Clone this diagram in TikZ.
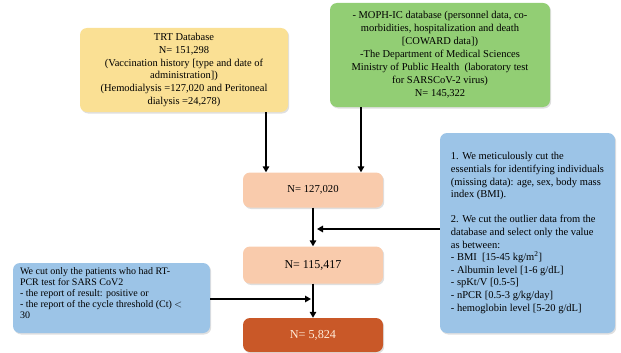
\documentclass[tikz,border=0pt]{standalone}
\usepackage{fontspec}
\setmainfont{Liberation Serif}
\usetikzlibrary{arrows.meta,shadows}
\definecolor{cyellow}{RGB}{250,224,148}
\definecolor{cgreen}{RGB}{146,206,116}
\definecolor{cpeach}{RGB}{249,203,172}
\definecolor{cdark}{RGB}{201,88,40}
\definecolor{cblue}{RGB}{156,196,231}
\tikzset{
  box/.style={rounded corners=7pt, draw=none, inner sep=2pt,
    drop shadow={opacity=0.25, shadow xshift=1.2pt, shadow yshift=-1.5pt},
    font=\fontsize{10.5}{12.9}\selectfont, text=black},
  txt/.style={inner sep=0pt, align=left, text=black},
  arr/.style={line width=1.6pt, -{Triangle[length=6pt,width=6.5pt]}},
}
\begin{document}
\begin{tikzpicture}[x=1pt,y=-1pt]
\useasboundingbox (0,0) rectangle (621,353);
\node[box, fill=cyellow, minimum width=208pt, minimum height=84pt, align=center] (yel) at (184,70)
  {TRT Database\\N= 151,298\\(Vaccination history [type and date of\\administration])\\(Hemodialysis =127,020 and Peritoneal\\dialysis =24,278)};
\node[box, fill=cgreen, minimum width=220pt, minimum height=104pt, align=center, font=\fontsize{10.5}{13}\selectfont] (grn) at (440,55)
  {- MOPH-IC database (personnel data, co-\\morbidities, hospitalization and death\\{[COWARD data])}\\-The Department of Medical Sciences\\Ministry of Public Health\ \ (laboratory test\\for SARSCoV-2 virus)\\N= 145,322};
\node[box, fill=cpeach, minimum width=140pt, minimum height=35pt, font=\fontsize{10.7}{12}\selectfont] (n1) at (313,190) {N= 127,020};
\node[box, fill=cpeach, minimum width=140pt, minimum height=37pt, font=\fontsize{12}{14}\selectfont] (n2) at (313,265) {N= 115,417};
\node[box, fill=cdark, minimum width=140pt, minimum height=34pt, text=orange!15, font=\fontsize{12.2}{14}\selectfont] (n3) at (313,335) {N= 5,824};
\node[box, fill=cblue, minimum width=175pt, minimum height=200pt, align=left, font=\fontsize{10.5}{12.6}\selectfont] (rb) at (527.5,233)
  {1. We meticulously cut the\\essentials for identifying individuals\\(missing data): age, sex, body mass\\index (BMI).\\[12.6pt]2. We cut the outlier data from the\\database and select only the value\\as between:\\- BMI\ \ [15-45 kg/m\textsuperscript{2}]\\- Albumin level [1-6 g/dL]\\- spKt/V [0.5-5]\\- nPCR [0.5-3 g/kg/day]\\- hemoglobin level [5-20 g/dL]};
\node[box, fill=cblue, minimum width=197pt, minimum height=70pt] (lb) at (111.5,298) {};
\node[txt, anchor=west, font=\fontsize{10}{10.8}\selectfont] (lbt) at ([xshift=7pt,yshift=5pt]lb.west)
  {We cut only the patients who had RT-\\PCR test for SARS CoV2\\- the report of result: positive or\\- the report of the cycle threshold (Ct) $<$\\30};
\coordinate (ya) at (266,0);
\coordinate (ga) at (361,0);
\coordinate (j1) at (317,229);
\coordinate (j2) at (311,299);
\draw[arr] (yel.south -| ya) -- (n1.north -| ya);
\draw[arr] (grn.south -| ga) -- (n1.north -| ga);
\draw[arr] (n1) -- (n2);
\draw[arr] (n2) -- (n3);
\draw[arr] (rb.west |- j1) -- (j1);
\draw[arr] (lb.east |- j2) -- (j2);
\end{tikzpicture}
\end{document}
